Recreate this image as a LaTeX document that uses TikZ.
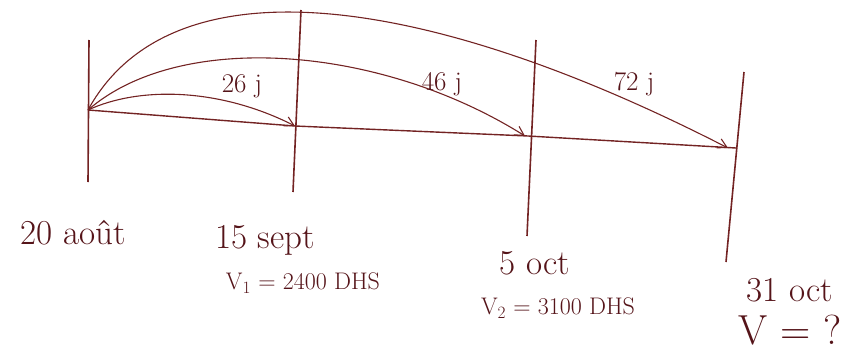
\documentclass[tikz,border=0pt]{standalone}
\usetikzlibrary{arrows.meta}
\definecolor{ink}{RGB}{115,35,35}
\definecolor{txt}{RGB}{85,20,25}
\begin{document}
\begin{tikzpicture}[x=1pt,y=-1pt,
  tick/.style={draw=ink,line width=1.6pt},
  base/.style={draw=ink,line width=1.4pt},
  arc/.style={draw=ink,line width=1.1pt,-{Straight Barb[length=9pt,width=10pt,line width=1.1pt]}},
  lbl/.style={text=txt,font=\fontsize{35}{40}\selectfont,inner sep=0pt},
  dlbl/.style={text=txt,font=\fontsize{27}{30}\selectfont,inner sep=0pt},
  vlbl/.style={text=txt,font=\fontsize{24}{28}\selectfont,inner sep=0pt}]
\useasboundingbox (0,0) rectangle (854,356);
% vertical ticks
\coordinate (t1a) at (89,40);  \coordinate (t1b) at (88,182);
\coordinate (t2a) at (301,10); \coordinate (t2b) at (293,192);
\coordinate (t3a) at (536,40); \coordinate (t3b) at (527,236);
\coordinate (t4a) at (744,72); \coordinate (t4b) at (726,262);
\draw[tick] (t1a) -- (t1b);
\draw[tick] (t2a) -- (t2b);
\draw[tick] (t3a) -- (t3b);
\draw[tick] (t4a) -- (t4b);
% baseline points
\coordinate (p1) at (88,110);
\coordinate (p2) at (295,126);
\coordinate (p3) at (528,136);
\coordinate (p4) at (736,148);
\draw[base] (p1) -- (p2) -- (p3) -- (p4);
% arcs
\draw[arc] (p1) .. controls (140,86) and (220,88) .. (p2);
\draw[arc] (p1) .. controls (180,30) and (380,45) .. ([xshift=-3pt]p3);
\draw[arc] (p1) .. controls (170,-40) and (420,-10) .. ([xshift=-8pt]p4);
% arc labels
\node[dlbl] (d1) at (242,86) {26 j};
\node[dlbl] (d2) at (442,84) {46 j};
\node[dlbl] (d3) at (634,84) {72 j};
% date labels
\node[lbl] (l1) at (73,233) {20 août};
\node[lbl] (l2) at (265,240) {15 sept};
\node[vlbl] (v1) at (303,283) {V$_1$ = 2400 DHS};
\node[lbl] (l3) at (535,263) {5 oct};
\node[vlbl] (v2) at (558,308) {V$_2$ = 3100 DHS};
\node[lbl] (l4) at (790,290) {31 oct};
\node[text=txt,font=\fontsize{42}{46}\selectfont,inner sep=0pt] (v) at (790,330) {V = ?};
\end{tikzpicture}
\end{document}
